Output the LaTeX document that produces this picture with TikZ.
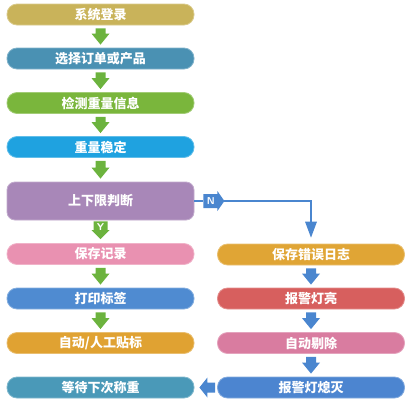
\documentclass[tikz,border=0pt]{standalone}
\usepackage{fontspec}
\newfontfamily\cjk{Noto Sans CJK SC}
\usetikzlibrary{calc}
\definecolor{cA}{HTML}{C9B35A}
\definecolor{cB}{HTML}{4A91B3}
\definecolor{cC}{HTML}{7AB63C}
\definecolor{cD}{HTML}{1FA2E0}
\definecolor{cE}{HTML}{A887B8}
\definecolor{cF}{HTML}{E991B1}
\definecolor{cG}{HTML}{4F8BD1}
\definecolor{cH}{HTML}{E0A232}
\definecolor{cI}{HTML}{4A99B8}
\definecolor{cJ}{HTML}{E0A535}
\definecolor{cK}{HTML}{D75F5E}
\definecolor{cL}{HTML}{D97CA0}
\definecolor{cM}{HTML}{4C85D0}
\definecolor{garr}{HTML}{6CB33E}
\definecolor{barr}{HTML}{4A86CF}
\tikzset{
  box/.style={rectangle, rounded corners=10pt, minimum width=187pt, minimum height=21pt,
    inner sep=0pt, fill=#1, draw=#1!70!white, line width=0.8pt,
    text=white, font=\cjk\bfseries\fontsize{13}{14}\selectfont},
  bigbox/.style={box=#1, rounded corners=8pt, minimum height=38pt},
  lab/.style={text=white, font=\sffamily\bfseries\fontsize{10}{10}\selectfont, inner sep=0pt},
}
\newcommand{\dnarrow}[3]{%
  \fill[#3] let \p1=(#1.south), \p2=(#2.north) in
    (\x1-5pt,\y1-3pt) -- (\x1+5pt,\y1-3pt) -- (\x1+5pt,\y2+14pt) -- (\x1+9pt,\y2+14pt)
    -- (\x1,\y2+3pt) -- (\x1-9pt,\y2+14pt) -- (\x1-5pt,\y2+14pt) -- cycle;}
\begin{document}
\begin{tikzpicture}[x=1pt,y=-1pt]
\useasboundingbox (0,0) rectangle (410,402);
\node[box=cA] (b1) at (100.5,14.5) {系统登录};
\node[box=cB] (b2) at (100.5,58.5) {选择订单或产品};
\node[box=cC] (b3) at (100.5,103) {检测重量信息};
\node[box=cD] (b4) at (100.5,147) {重量稳定};
\node[bigbox=cE] (b5) at (100.5,201) {上下限判断};
\node[box=cF] (b6) at (100.5,254) {保存记录};
\node[box=cG] (b7) at (100.5,298.5) {打印标签};
\node[box=cH] (b8) at (100.5,343) {自动/人工贴标};
\node[box=cI] (b9) at (100.5,387.5) {等待下次称重};
\node[box=cJ] (r1) at (311,254.5) {保存错误日志};
\node[box=cK] (r2) at (311,298.5) {报警灯亮};
\node[box=cL] (r3) at (311,343) {自动剔除};
\node[box=cM] (r4) at (311,387.5) {报警灯熄灭};
\dnarrow{b1}{b2}{garr}
\dnarrow{b2}{b3}{garr}
\dnarrow{b3}{b4}{garr}
\dnarrow{b4}{b5}{garr}
\dnarrow{b6}{b7}{garr}
\dnarrow{b7}{b8}{garr}
\dnarrow{r1}{r2}{barr}
\dnarrow{r2}{r3}{barr}
\dnarrow{r3}{r4}{barr}
% Y arrow
\fill[garr] let \p1=(b5.south), \p2=(b6.north) in
  (\x1-7pt,\y1-1pt) -- (\x1+7pt,\y1-1pt) -- (\x1+7pt,\y2+13pt) -- (\x1+9pt,\y2+13pt)
  -- (\x1,\y2+4pt) -- (\x1-9pt,\y2+13pt) -- (\x1-7pt,\y2+13pt) -- cycle;
\node[lab] (ylab) at ($(b5.south)+(0,7)$) {Y};
% N connector
\coordinate (nA) at ($(b5.east)+(9,0)$);
\draw[barr, line width=2.5pt] (b5.east) -- (nA);
\fill[barr] (nA) ++(0,-7) -- ++(14,0) -- ++(0,-3) -- ++(7,10) -- ++(-7,10) -- ++(0,-3) -- ++(-14,0) -- cycle;
\node[lab] (nlab) at ($(nA)+(7.5,0)$) {N};
\coordinate (nB) at ($(nA)+(21,0)$);
\coordinate (nC) at (r1.north |- nB);
\coordinate (nD) at ($(r1.north)+(0,-6)$);
\draw[barr, line width=2.5pt] (nB) -- (nC) -- ($(nD)+(0,-14)$);
\fill[barr] ($(nD)+(-6,-16)$) -- ($(nD)+(6,-16)$) -- (nD) -- cycle;
% bottom left arrow
\fill[barr] let \p1=(r4.west), \p2=(b9.east) in
  (\x1-2pt,\y1-5pt) -- (\x2+13pt,\y1-5pt) -- (\x2+13pt,\y1-10pt) -- (\x2+5pt,\y1)
  -- (\x2+13pt,\y1+10pt) -- (\x2+13pt,\y1+5pt) -- (\x1-2pt,\y1+5pt) -- cycle;
\end{tikzpicture}
\end{document}
